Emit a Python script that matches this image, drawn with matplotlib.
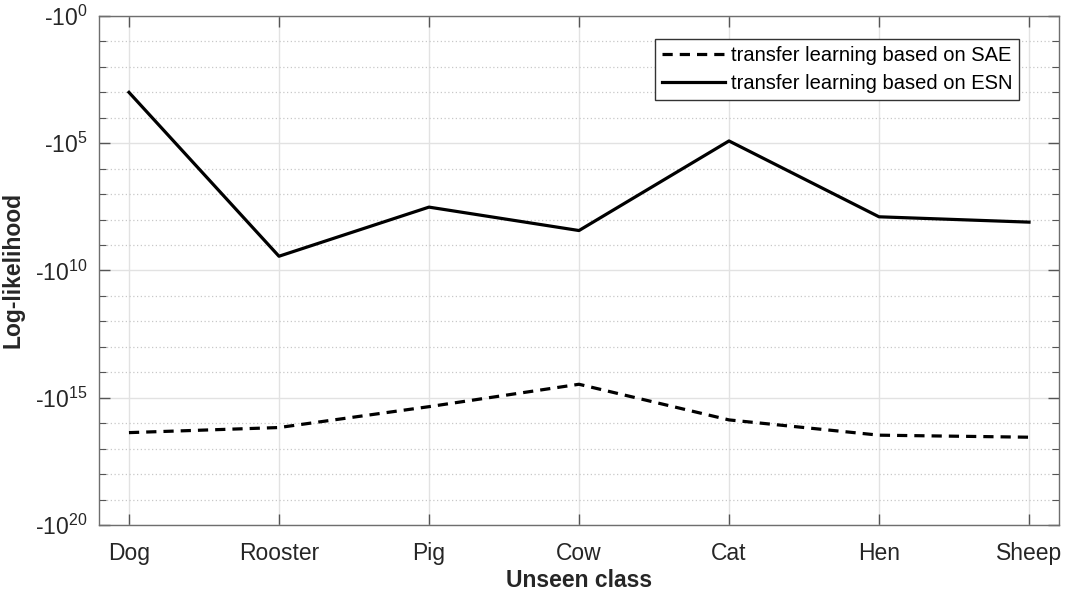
import matplotlib
matplotlib.use("Agg")
import matplotlib.pyplot as plt
from matplotlib.ticker import FixedLocator, FixedFormatter, NullFormatter

plt.rcParams['font.family'] = ['Liberation Sans', 'DejaVu Sans']
plt.rcParams['mathtext.fontset'] = 'custom'
plt.rcParams['mathtext.rm'] = 'Liberation Sans'
plt.rcParams['mathtext.it'] = 'Liberation Sans:italic'

# Data: exponent of the (negative) log-likelihood, i.e. LL = -10**exp
classes = ["Dog", "Rooster", "Pig", "Cow", "Cat", "Hen", "Sheep"]
sae_exp = [16.37, 16.17, 15.35, 14.47, 15.87, 16.47, 16.55]
esn_exp = [3.0, 9.44, 7.51, 8.43, 4.91, 7.89, 8.10]
major_exp = [0, 5, 10, 15, 20]

x = list(range(len(classes)))
sae_mag = [10.0 ** e for e in sae_exp]
esn_mag = [10.0 ** e for e in esn_exp]

fig = plt.figure(figsize=(10.71, 5.96), dpi=100)
ax = fig.add_axes([0.0924, 0.1191, 0.8964, 0.8541])

ax.plot(x, sae_mag, color="black", linestyle=(0, (3.2, 2.2)), linewidth=2.3,
        label="transfer learning based on SAE")
ax.plot(x, esn_mag, color="black", linestyle="-", linewidth=2.3,
        label="transfer learning based on ESN")

ax.set_yscale("log")
ax.set_ylim(1e20, 1e0)
ax.set_xlim(-0.2, 6.2)

ax.yaxis.set_major_locator(FixedLocator([10.0 ** e for e in major_exp]))
ax.yaxis.set_major_formatter(FixedFormatter([r"-$10^{%d}$" % e for e in major_exp]))
ax.yaxis.set_minor_locator(FixedLocator([10.0 ** e for e in range(21) if e % 5 != 0]))
ax.yaxis.set_minor_formatter(NullFormatter())

ax.set_xticks(x)
ax.set_xticklabels(classes)

ax.grid(True, which="major", color="#e2e2e2", linestyle="-", linewidth=1.0)
ax.grid(True, which="minor", axis="y", color="#c8c8c8", linestyle=(0, (1, 2)), linewidth=0.9)
ax.set_axisbelow(True)

ax.tick_params(axis="both", which="both", direction="in", top=True, right=True,
               colors="#555555", labelcolor="#262626")
ax.tick_params(axis="both", which="major", length=8, width=1.0, labelsize=16.5)
ax.tick_params(axis="y", which="minor", length=5, width=0.8)
ax.tick_params(axis="x", pad=12)
ax.tick_params(axis="y", pad=8)

for s in ax.spines.values():
    s.set_color("#6e6e6e")
    s.set_linewidth(1.0)

ax.set_xlabel("Unseen class", fontsize=16.5, fontweight="bold", color="#262626", labelpad=3)
ax.set_ylabel("Log-likelihood", fontsize=16.5, fontweight="bold", color="#262626", labelpad=8)

leg = ax.legend(loc="upper right", bbox_to_anchor=(0.969, 0.975), fontsize=14.5,
                fancybox=False, framealpha=1.0, edgecolor="#333333",
                handlelength=3.1, handletextpad=0.3, borderpad=0.35, labelspacing=0.45)
leg.get_frame().set_linewidth(1.0)

fig.savefig("out.png", dpi=100)
plt.close(fig)
